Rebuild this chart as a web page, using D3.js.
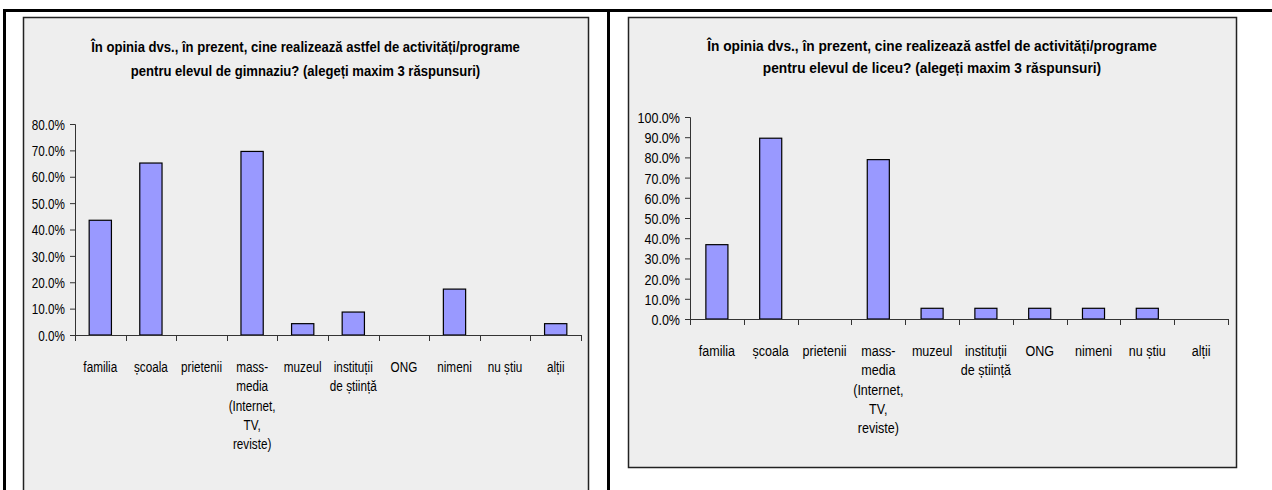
<!DOCTYPE html>
<html>
<head>
<meta charset="utf-8">
<script src="https://cdn.jsdelivr.net/npm/d3@7"></script>
<style>
  body { margin: 0; background: #ffffff; }
  svg text { font-family: "Liberation Sans", Arial, sans-serif; fill: #000; }
</style>
</head>
<body>
<svg id="chart" width="1272" height="490"></svg>
<script>
// Answer categories (line breaks mark how the axis labels wrap)
const categories = [
  "familia", "școala", "prietenii", "mass-\nmedia\n(Internet,\nTV,\nreviste)",
  "muzeul", "instituții\nde știință", "ONG", "nimeni", "nu știu", "alții"
];

// Share of respondents (%) per answer
const gimnaziuValues = [43.5, 65.2, 0, 69.6, 4.3, 8.7, 0, 17.4, 0, 4.3];
const liceuValues    = [36.8, 89.5, 0, 78.9, 5.3, 5.3, 5.3, 5.3, 5.3, 0];

// Value axis ticks
const gimnaziuTicks = [0, 10, 20, 30, 40, 50, 60, 70, 80];
const liceuTicks    = [0, 10, 20, 30, 40, 50, 60, 70, 80, 90, 100];

// Chart titles
const gimnaziuTitle = [
  "În opinia dvs., în prezent, cine realizează astfel de activități/programe",
  "pentru elevul de gimnaziu? (alegeți maxim 3 răspunsuri)"
];
const liceuTitle = [
  "În opinia dvs., în prezent, cine realizează astfel de activități/programe",
  "pentru elevul de liceu? (alegeți maxim 3 răspunsuri)"
];

// Narrow lettering: regular sans squeezed horizontally
const NARROW = 0.82;

const svg = d3.select("#chart");

// Table grid around the two charts
const grid = svg.append("g").attr("fill", "#000");
grid.append("rect").attr("x", 3).attr("y", 9).attr("width", 1269).attr("height", 3);
grid.append("rect").attr("x", 3).attr("y", 9).attr("width", 3).attr("height", 481);
grid.append("rect").attr("x", 607).attr("y", 9).attr("width", 3).attr("height", 481);

function drawChart(cfg) {
  const g = svg.append("g");

  // panel background
  g.append("rect")
    .attr("x", cfg.panel.x + 0.5).attr("y", cfg.panel.y + 0.5)
    .attr("width", cfg.panel.w).attr("height", cfg.panel.h)
    .attr("fill", "#eeeeee").attr("stroke", "#222").attr("stroke-width", 1.5);

  // title, squeezed to its line width
  const cx = cfg.panel.x + cfg.panel.w / 2;
  const titleG = g.selectAll("g.title").data(cfg.title).join("g")
    .attr("class", "title");
  const titleT = titleG.append("text")
    .attr("text-anchor", "middle")
    .style("font-weight", "bold").style("font-size", cfg.titleSize + "px")
    .text(d => d);
  let sx = NARROW;
  const firstLen = titleT.node().getComputedTextLength();
  if (firstLen > 0) sx = cfg.titleWidth / firstLen;
  titleG.attr("transform", (d, i) => `translate(${cx},${cfg.titleY[i]}) scale(${sx},1)`);

  const x = d3.scaleBand()
    .domain(categories)
    .range([cfg.plot.left, cfg.plot.right])
    .paddingInner(cfg.pad).paddingOuter(cfg.pad / 2);

  const y = d3.scaleLinear()
    .domain([0, d3.max(cfg.ticks)])
    .range([cfg.plot.bottom, cfg.plot.top]);

  // value axis
  const yAxis = g.append("g")
    .attr("transform", `translate(${cfg.plot.left},0)`)
    .call(d3.axisLeft(y).tickValues(cfg.ticks).tickSize(5).tickPadding(4)
      .tickFormat(d => d.toFixed(1) + "%"));
  yAxis.attr("font-family", null).attr("font-size", null);
  yAxis.select(".domain").attr("stroke", "#333");
  yAxis.selectAll(".tick line").attr("stroke", "#333");
  yAxis.selectAll(".tick text")
    .style("font-size", cfg.fontSize + "px")
    .attr("fill", "#000")
    .attr("x", 0)
    .attr("dy", "0.36em")
    .attr("transform", `translate(${-cfg.tickGap},0) scale(${NARROW},1)`);

  // bars
  const data = categories.map((c, i) => ({ c, v: cfg.values[i] }));
  g.selectAll("rect.bar").data(data.filter(d => d.v > 0)).join("rect")
    .attr("class", "bar")
    .attr("x", d => x(d.c)).attr("width", x.bandwidth())
    .attr("y", d => y(d.v)).attr("height", d => y(0) - y(d.v))
    .attr("fill", "#9999ff").attr("stroke", "#000").attr("stroke-width", 1.2);

  // category axis with ticks between categories
  const step = x.step();
  const edge = c => x(c) - (step - x.bandwidth()) / 2;
  const bounds = categories.map(edge).concat([edge(categories[categories.length - 1]) + step]);
  g.append("line")
    .attr("x1", cfg.plot.left).attr("x2", cfg.plot.right)
    .attr("y1", y(0) + 0.5).attr("y2", y(0) + 0.5)
    .attr("stroke", "#333");
  g.selectAll("line.xt").data(bounds).join("line")
    .attr("class", "xt")
    .attr("x1", d => Math.round(d) + 0.5).attr("x2", d => Math.round(d) + 0.5)
    .attr("y1", y(0)).attr("y2", y(0) + 6)
    .attr("stroke", "#333");

  // category labels
  const lbl = g.selectAll("text.xl").data(categories).join("text")
    .attr("class", "xl")
    .attr("text-anchor", "middle")
    .style("font-size", cfg.fontSize + "px")
    .attr("transform", d => `translate(${x(d) + x.bandwidth() / 2},${cfg.labelY}) scale(${NARROW},1)`);
  lbl.selectAll("tspan").data(d => d.split("\n")).join("tspan")
    .attr("x", 0).attr("y", (d, i) => i * cfg.lineH)
    .text(d => d);
}

drawChart({
  panel: { x: 23, y: 17, w: 565, h: 480 },
  plot: { left: 75, right: 581, top: 124, bottom: 335 },
  ticks: gimnaziuTicks, values: gimnaziuValues, title: gimnaziuTitle,
  titleY: [52, 76], titleSize: 15, titleWidth: 429, fontSize: 14.3, tickGap: 10,
  pad: 0.56, labelY: 372, lineH: 19.3
});

drawChart({
  panel: { x: 628, y: 17, w: 608, h: 450 },
  plot: { left: 690, right: 1228, top: 117, bottom: 319 },
  ticks: liceuTicks, values: liceuValues, title: liceuTitle,
  titleY: [51, 73], titleSize: 15.5, titleWidth: 450, fontSize: 15.3, tickGap: 10,
  pad: 0.59, labelY: 356, lineH: 19.3
});
</script>
</body>
</html>
